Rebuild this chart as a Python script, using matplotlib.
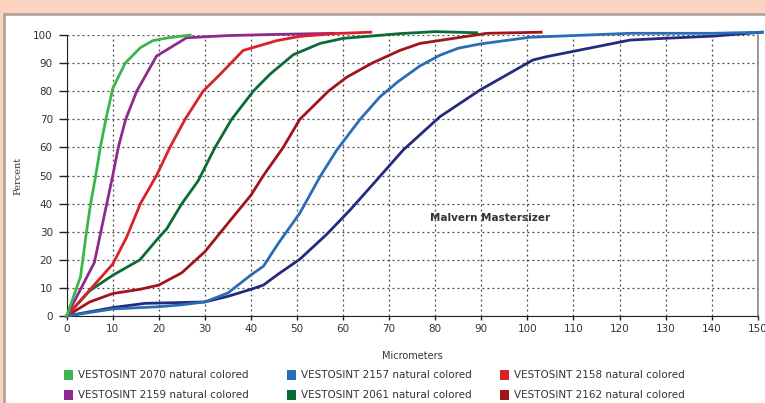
import numpy as np
import matplotlib.pyplot as plt
from matplotlib.patches import Rectangle

# cumulative particle size distributions (Malvern Mastersizer)
x_2070 = [0, 3, 4.3, 5.2, 6.3, 7.3, 8.5, 10, 12.7, 16, 18.7, 22, 26.8]
y_2070 = [0, 14, 30, 40, 50, 60, 70, 81, 90, 95.5, 98, 99, 100]

x_2159 = [0, 6, 8.7, 10, 11.2, 12.8, 15.2, 19.5, 26, 35, 45, 58]
y_2159 = [0, 19, 40, 50, 60, 70, 80, 92.5, 99, 99.8, 100.2, 100.6]

x_2158 = [0, 10, 13, 16, 19.5, 22.4, 25.7, 29.6, 33.3, 38.3, 45.6, 50.6, 58, 66]
y_2158 = [0, 18.5, 28, 40, 50, 60, 70, 80, 86, 94.5, 98, 99.5, 100.5, 101]

x_2061 = [0, 5, 10, 15.9, 19.5, 21.7, 25, 28.5, 32.2, 35.8, 40.5, 44.1, 49.2, 55, 60, 72.4, 80, 89]
y_2061 = [0, 9, 14.5, 20, 27, 31, 40, 48, 60, 70, 80, 86, 93, 97, 98.8, 100.5, 101.2, 100.8]

x_2162 = [0, 5, 10, 15.9, 20, 25, 30, 35, 40, 42.7, 47, 50.6, 56.8, 60.8, 66.3, 72.3, 76.7, 91.2, 103]
y_2162 = [0, 5, 8, 9.5, 11, 15.4, 22.9, 33, 43, 50, 60, 70, 80, 85, 90, 94.5, 97, 100.6, 101]

x_2157 = [0, 10, 16, 20, 25, 30, 35, 40, 42.7, 46, 50.6, 55, 58.6, 63.7, 68, 72, 76.7, 81, 85, 89.7, 100.6, 122.3, 140.3, 151]
y_2157 = [0, 2.5, 3, 3.3, 4, 5, 8.2, 14.6, 17.7, 26, 36.6, 49.6, 59, 70, 78, 83.5, 89, 92.8, 95.3, 96.8, 99.2, 100.6, 100.6, 101]

x_navy = [0, 10, 17, 30, 35, 40, 42.7, 46, 50.6, 56.4, 61.5, 67.3, 73, 81, 89.7, 101.2, 104.2, 122.3, 129.5, 140.3, 151]
y_navy = [0, 3, 4.5, 5, 7, 9.5, 11, 15, 20.2, 29, 37.7, 48.4, 59, 70.9, 80.4, 91.1, 92.3, 98.2, 98.8, 99.6, 101]

series = [
    ("VESTOSINT 2070 natural colored", x_2070, y_2070, "#3cb64b"),
    ("VESTOSINT 2157 natural colored", x_2157, y_2157, "#2b6cb7"),
    ("VESTOSINT 2158 natural colored", x_2158, y_2158, "#da2129"),
    ("VESTOSINT 2159 natural colored", x_2159, y_2159, "#8e2a8f"),
    ("VESTOSINT 2061 natural colored", x_2061, y_2061, "#0b6b34"),
    ("VESTOSINT 2162 natural colored", x_2162, y_2162, "#a0141c"),
]

W, H = 765, 403
fig = plt.figure(figsize=(W / 100, H / 100), dpi=100)
fig.patch.set_facecolor("#fcd3c0")

# white panel with grey border, in a background axes
bg = fig.add_axes([0, 0, 1, 1], zorder=-1)
bg.set_xlim(0, W)
bg.set_ylim(H, 0)
bg.axis("off")
bg.add_patch(Rectangle((4, 14), W + 10, H + 10, facecolor="white", edgecolor="#b3a79d", linewidth=2))

ax = fig.add_axes([66.7 / W, 1 - 316 / H, (757.7 - 66.7) / W, (316 - 35) / H], zorder=1)
ax.set_facecolor("none")
ax.set_xlim(0, 150)
ax.set_ylim(0, 100)
ax.set_xticks(np.arange(0, 151, 10))
ax.set_yticks(np.arange(0, 101, 10))
ax.grid(True, color="#444444", linestyle=(0, (1.5, 2.5)), linewidth=0.9)
ax.set_axisbelow(True)
ax.tick_params(axis="both", labelsize=7.5, colors="#333333", direction="out")
ax.tick_params(axis="y", length=6, width=1, color="#222222", pad=4)
ax.tick_params(axis="x", length=3, width=1, color="#222222", pad=3)
ax.spines["top"].set_visible(False)
ax.spines["right"].set_color("#888888")
ax.spines["right"].set_linewidth(1.2)
ax.spines["left"].set_color("#222222")
ax.spines["bottom"].set_color("#222222")

# navy curve (legend entry not visible in the crop)
ax.plot(x_navy, y_navy, color="#262a7f", linewidth=2, clip_on=False, zorder=3)
for name, xs, ys, col in series[::-1]:
    ax.plot(xs, ys, color=col, linewidth=2, clip_on=False, zorder=3)

ax.set_xlabel("Micrometers", fontsize=7, color="#333333", labelpad=12)
ax.set_ylabel("Percent", fontsize=7, color="#333333", family="DejaVu Serif", labelpad=8)
ax.text(92, 35, "Malvern Mastersizer", fontsize=7.5, fontweight="bold", color="#333333",
        ha="center", va="center")

# manual legend, 3 columns x 2 rows
col_x = [64, 287, 500]
row_y = [375, 395]
for i, (name, xs, ys, col) in enumerate(series):
    cx = col_x[i % 3]
    cy = row_y[i // 3]
    bg.add_patch(Rectangle((cx, cy - 5), 9, 10, facecolor=col, edgecolor="none"))
    bg.text(cx + 14, cy, name, fontsize=7.5, color="#333333", va="center")

fig.savefig("out.png", dpi=100, facecolor=fig.get_facecolor())
